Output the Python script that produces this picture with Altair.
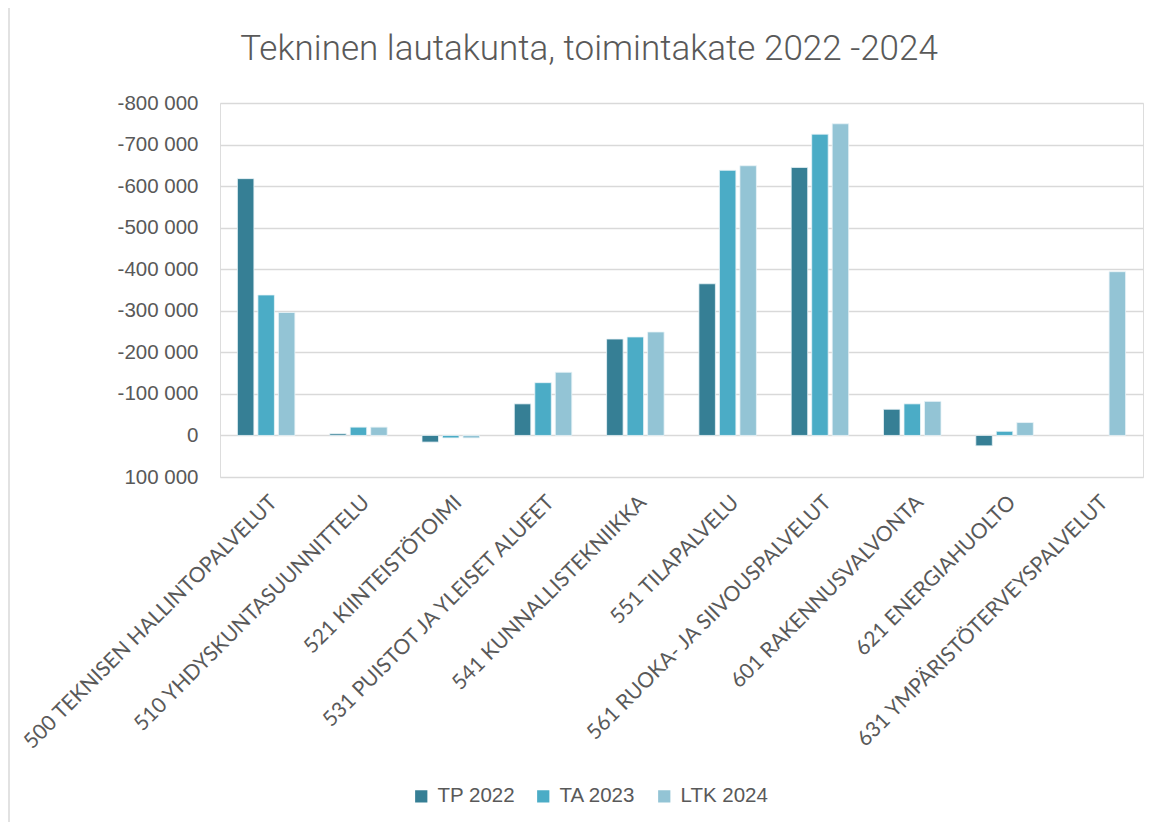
import altair as alt
import pandas as pd

title_text = "Tekninen lautakunta, toimintakate 2022 -2024"
categories = [
    "500 TEKNISEN HALLINTOPALVELUT",
    "510 YHDYSKUNTASUUNNITTELU",
    "521 KIINTEISTÖTOIMI",
    "531 PUISTOT JA YLEISET ALUEET",
    "541 KUNNALLISTEKNIIKKA",
    "551 TILAPALVELU",
    "561 RUOKA- JA SIIVOUSPALVELUT",
    "601 RAKENNUSVALVONTA",
    "621 ENERGIAHUOLTO",
    "631 YMPÄRISTÖTERVEYSPALVELUT",
]
series = ["TP 2022", "TA 2023", "LTK 2024"]
tp_2022 = [-618000, -4000, 16000, -76000, -232000, -365000, -645000, -63000, 25000, None]
ta_2023 = [-338000, -20000, 6000, -127000, -237000, -638000, -725000, -76000, -10000, None]
ltk_2024 = [-296000, -20000, 6000, -152000, -249000, -649000, -750000, -82000, -31000, -394000]
colors = ["#367f95", "#4bacc6", "#93c4d5"]
tick_values = [-800000, -700000, -600000, -500000, -400000, -300000, -200000, -100000, 0, 100000]

rows = []
for name, vals in zip(series, [tp_2022, ta_2023, ltk_2024]):
    for cat, v in zip(categories, vals):
        if v is not None:
            rows.append({"kategoria": cat, "sarja": name, "arvo": v})
df = pd.DataFrame(rows)

label_font = "Liberation Sans"
grey = "#595959"

bars = alt.Chart(df).mark_bar(stroke="#eaf4f7", strokeWidth=0.8).encode(
    x=alt.X(
        "kategoria:N",
        sort=categories,
        scale=alt.Scale(paddingInner=0.377, paddingOuter=0.1885),
        axis=alt.Axis(
            title=None,
            labelAngle=-45,
            labelAlign="right",
            labelBaseline="middle",
            labelPadding=22,
            labelOffset=8,
            labelLimit=500,
            labelFontSize=21,
            labelFont="Lato",
            labelColor=grey,
            ticks=False,
            domain=False,
            grid=False,
        ),
    ),
    xOffset=alt.XOffset("sarja:N", sort=series, scale=alt.Scale(paddingInner=0.195, paddingOuter=0)),
    y=alt.Y(
        "arvo:Q",
        scale=alt.Scale(domain=[-800000, 100000], reverse=True, nice=False, zero=True),
        axis=alt.Axis(
            title=None,
            values=tick_values,
            labelExpr="replace(replace(format(datum.value, ',d'), ',', ' '), '\u2212', '-')",
            labelFontSize=20.5,
            labelFont=label_font,
            labelColor=grey,
            labelPadding=22,
            ticks=False,
            domain=False,
            grid=True,
            gridColor="#d9d9d9",
            gridWidth=1.3,
        ),
    ),
    color=alt.Color(
        "sarja:N",
        sort=series,
        scale=alt.Scale(domain=series, range=colors),
        legend=alt.Legend(
            title=None,
            orient="none",
            legendX=191,
            legendY=683,
            direction="horizontal",
            symbolType="square",
            symbolSize=150,
            symbolStrokeWidth=0,
            labelFontSize=20.5,
            labelFont=label_font,
            labelColor=grey,
            columnPadding=18,
            labelOffset=6,
        ),
    ),
)

border = alt.Chart(pd.DataFrame({"a": [0]})).mark_rule(color="#d9d9d9", strokeWidth=1.5).encode(
    x=alt.value(-211), y=alt.value(-95), y2=alt.value(719)
)

title = alt.Chart(pd.DataFrame({"t": [title_text]})).mark_text(
    font="Roboto",
    fontSize=35,
    fontWeight=300,
    color=grey,
    align="center",
    baseline="alphabetic",
).encode(text="t:N", x=alt.value(369), y=alt.value(-43))

chart = alt.layer(border, bars, title).properties(
    width=923,
    height=374,
    padding={"left": 212, "top": 95, "right": 14, "bottom": 345},
    autosize=alt.AutoSizeParams(type="none"),
).configure_view(stroke=None).configure(background="white")

chart.save("out.html", embed_options={"renderer": "svg", "actions": False})
